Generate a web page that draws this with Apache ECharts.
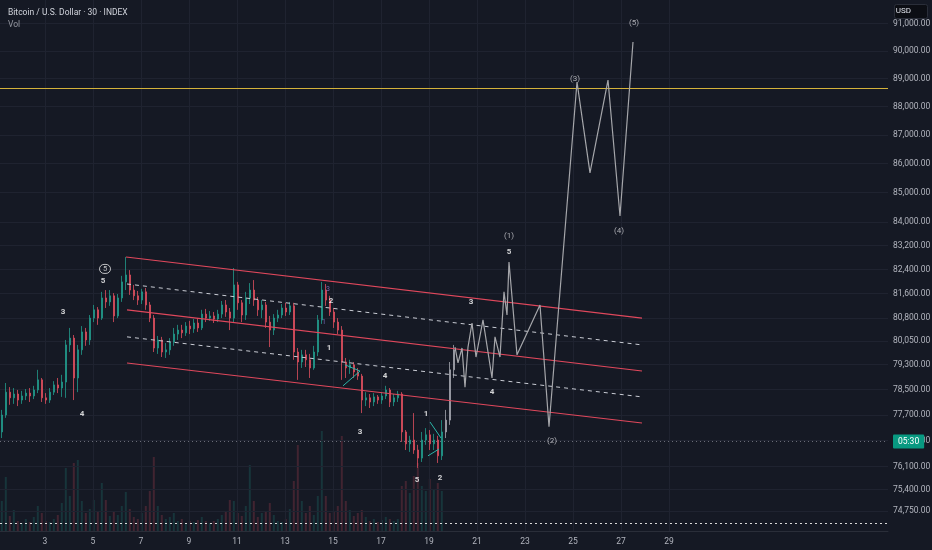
<!DOCTYPE html>
<html>
<head>
<meta charset="utf-8">
<script src="https://cdn.jsdelivr.net/npm/echarts@6/dist/echarts.min.js"></script>
<style>
  html, body { margin: 0; padding: 0; background: #151924; }
  #chart { width: 932px; height: 550px; }
</style>
</head>
<body>
<div id="chart"></div>
<script>
// BTC/USD 30m, drawn as 4h candles (day of month on x, log price on y)

var candleStartDay = 1.2
var candleStepDay = 1 / 6

// [open, close, low, high]
var candles = [
    [77170, 77700, 76980, 77860], [77700, 78420, 77610, 78710], [78420, 78240, 78020, 78580],
    [78240, 78360, 78050, 78550], [78360, 78170, 77980, 78490], [78170, 78300, 78050, 78460],
    [78300, 78390, 78170, 78520], [78390, 78300, 78110, 78550], [78300, 78490, 78200, 78620],
    [78490, 78810, 78390, 79130], [78810, 78240, 78110, 78870], [78240, 78170, 78050, 78390],
    [78170, 78420, 78080, 78550], [78420, 78650, 78330, 78770], [78650, 78550, 78390, 78870],
    [78550, 78740, 78270, 78970], [78740, 79930, 78240, 80090], [79930, 80150, 79700, 80480],
    [80150, 78870, 78170, 80250], [78870, 79770, 78420, 79930], [79770, 80350, 79610, 80540],
    [80350, 80090, 79900, 80480], [80090, 80800, 79930, 80900], [80800, 81070, 80670, 81230],
    [81070, 80800, 80580, 81160], [80800, 81460, 80740, 81660], [81460, 81330, 81130, 81720],
    [81330, 81530, 81200, 81720], [81530, 80870, 80670, 81620], [80870, 81460, 80800, 81590],
    [81460, 81990, 81330, 82190], [81990, 82220, 81720, 82820], [82220, 81720, 81560, 82380],
    [81720, 81530, 81390, 81890], [81530, 81390, 81230, 81690], [81390, 81660, 81260, 81760],
    [81660, 81230, 81070, 81790], [81230, 80800, 80670, 81330], [80800, 79830, 79700, 80900],
    [79830, 80090, 79640, 80220], [80090, 79700, 79540, 80190], [79700, 79770, 79510, 79990],
    [79770, 80020, 79610, 80150], [80020, 80280, 79900, 80480], [80280, 80410, 80090, 80580],
    [80410, 80320, 80150, 80580], [80320, 80540, 80220, 80670], [80540, 80450, 80280, 80710],
    [80450, 80640, 80320, 80770], [80640, 80480, 80350, 80800], [80480, 80930, 80410, 81070],
    [80930, 80800, 80670, 81100], [80800, 80870, 80710, 81030], [80870, 80770, 80640, 81000],
    [80770, 80930, 80670, 81070], [80930, 81230, 80800, 81360], [81230, 81000, 80840, 81390],
    [81000, 80800, 80410, 81130], [80800, 81890, 80670, 82450], [81890, 81300, 81070, 81990],
    [81300, 80900, 80670, 81390], [80900, 81460, 80740, 81660], [81460, 81720, 81260, 81950],
    [81720, 81390, 81200, 82050], [81390, 81070, 80870, 81490], [81070, 81230, 80800, 81390],
    [81230, 80670, 80480, 81330], [80670, 80410, 79860, 80870], [80410, 80800, 80250, 80930],
    [80800, 80900, 80670, 81070], [80900, 81130, 80800, 81260], [81130, 81000, 80870, 81300],
    [81000, 81200, 80900, 81330], [81200, 79700, 79450, 81300], [79700, 79380, 78810, 79830],
    [79380, 79610, 79190, 79770], [79610, 79450, 79220, 79770], [79450, 79190, 78870, 79640],
    [79190, 79700, 79130, 79900], [79700, 80740, 79570, 80900], [80740, 81720, 80610, 81990],
    [81720, 81390, 81200, 81920], [81390, 81000, 80870, 81530], [81000, 80670, 80480, 81130],
    [80670, 80410, 80280, 80800], [80410, 79380, 78810, 80540], [79380, 79190, 78870, 79510],
    [79190, 79290, 79000, 79450], [79290, 79060, 78870, 79380], [79060, 78930, 78810, 79190],
    [78930, 78170, 77760, 79000], [78170, 78240, 77980, 78420], [78240, 78110, 77920, 78360],
    [78110, 78270, 77980, 78390], [78270, 78170, 78050, 78330], [78170, 78300, 78050, 78420],
    [78300, 78490, 78200, 78620], [78490, 78110, 77950, 78550], [78110, 78240, 77980, 78360],
    [78240, 78360, 78110, 78460], [78360, 77170, 76860, 78420], [77170, 76800, 76610, 77230],
    [76800, 76920, 76550, 77050], [76920, 76610, 76490, 77760], [76610, 76360, 76060, 76770],
    [76360, 76920, 76240, 77170], [76920, 77080, 76770, 77290], [77080, 76800, 76610, 77230],
    [76800, 76920, 76610, 77110], [76920, 76430, 76210, 77050], [76430, 77170, 76300, 77540]
]

// grey (unconfirmed) candles after the last coloured one
var ghostCandles = [
    [77170, 77540, 76980, 77860], [77540, 79130, 77390, 79380], [79130, 79770, 78870, 79930]
]

var volumes = [
    30, 54, 15, 21, 10, 8, 12, 9, 14, 25, 18, 10, 9, 12, 16, 28, 63, 35, 68, 71,
    30, 18, 22, 31, 20, 48, 31, 15, 20, 16, 25, 39, 22, 14, 12, 18, 25, 40, 74, 25,
    16, 12, 14, 18, 10, 12, 8, 10, 9, 11, 14, 10, 8, 10, 12, 16, 20, 31, 30, 18,
    15, 25, 66, 30, 14, 18, 20, 28, 16, 10, 9, 12, 22, 50, 86, 30, 18, 25, 16, 35,
    100, 35, 18, 20, 25, 95, 30, 21, 15, 18, 21, 14, 10, 12, 9, 11, 14, 12, 10, 12,
    45, 50, 38, 55, 68, 45, 40, 52, 42, 48, 40
]

// projected wave path
var waveDays = [20.083, 20.208, 20.375, 20.5, 20.625, 20.792, 20.958, 21.25, 21.625, 21.75,
    21.958, 22.125, 22.25, 22.333, 22.667, 23.625, 24.0, 25.167, 25.708, 26.458, 26.958, 27.5]
var wavePrices = [79860, 79350, 79830, 78580, 79860, 80640, 79540, 80740, 78870, 80190,
    79540, 81660, 80900, 82650, 79610, 81230, 77330, 88880, 85680, 88950, 84200, 90330]

// channel: [startDay, startPrice, endDay, endPrice, dashed]
var channelLines = [
    [6.375, 82820, 27.875, 80800, false],
    [6.417, 81920, 27.875, 79930, true],
    [6.417, 81070, 27.875, 79090, false],
    [6.417, 80190, 27.875, 78270, true],
    [6.417, 79350, 27.875, 77450, false]
]

var tealSegments = [
    [15.417, 78620, 16.125, 79090],
    [15.5, 79290, 16.125, 79090],
    [18.958, 76430, 19.417, 76640],
    [19.042, 77480, 19.5, 76980]
]

// [day, price, text, kind]  w = wave count, p = projection, c = circled, v = sub count
var waveLabels = [
    [3.75, 81000, '3', 'w'], [5.417, 82020, '5', 'w'], [5.5, 82420, '5', 'c'], [4.542, 77730, '4', 'w'],
    [14.917, 81360, '2', 'w'], [14.833, 79830, '1', 'w'], [14.792, 81750, '3', 'v'], [14.625, 80670, '1', 'v'],
    [17.167, 78930, '4', 'w'], [16.125, 77170, '3', 'w'], [18.875, 77730, '1', 'w'],
    [18.5, 75690, '5', 'w'], [19.458, 75750, '2', 'w'],
    [20.75, 81330, '3', 'w'], [21.625, 78420, '4', 'w'], [22.333, 82990, '5', 'w'],
    [22.333, 83520, '(1)', 'p'], [24.125, 76890, '(2)', 'p'], [25.083, 88990, '(3)', 'p'],
    [26.917, 83690, '(4)', 'p'], [27.542, 91020, '(5)', 'p']
]

var priceTicks = [91000, 90000, 89000, 88000, 87000, 86000, 85000, 84000, 83200, 82400,
    81600, 80800, 80050, 79300, 78500, 77700, 76900, 76100, 75400, 74750]
var dayTicks = [3, 5, 7, 9, 11, 13, 15, 17, 19, 21, 23, 25, 27, 29]

var yellowLevel = 88670
var baseLevel = 74390
var lastPrice = 76870
var countdown = '05:30'

var UP = '#229a8b'
var DOWN = '#de4f5e'
var GRID = '#1f2330'
var TXT = '#b2b5be'
var FONT = 'Roboto, "Noto Sans", sans-serif'

var chart = echarts.init(document.getElementById('chart'), null, {renderer: 'canvas'});

function fmtPrice(v) {
    return v.toLocaleString('en-US', {minimumFractionDigits: 2, maximumFractionDigits: 2})
}

var candleData = candles.map(function (c, i) {
    return [candleStartDay + i * candleStepDay, c[0], c[1], c[2], c[3]]
})
var ghostData = ghostCandles.map(function (c, i) {
    return [candleStartDay + (candles.length + i) * candleStepDay, c[0], c[1], c[2], c[3]]
})
var volumeData = volumes.map(function (v, i) {
    var c = candles[i]
    return {
        value: [candleStartDay + i * candleStepDay, v],
        itemStyle: {color: c[1] >= c[0] ? 'rgba(34,154,139,0.22)' : 'rgba(222,79,94,0.22)'}
    }
})

var series = []

// grid lines + price labels
series.push({
    type: 'line', data: [], xAxisIndex: 0, yAxisIndex: 0, z: 1,
    markLine: {
        silent: true, animation: false, symbol: ['none', 'none'],
        lineStyle: {color: GRID, type: 'solid', width: 1},
        label: {position: 'end', distance: 5, color: TXT, fontSize: 8.5, fontFamily: FONT,
            formatter: function (p) { return fmtPrice(p.value) }},
        data: priceTicks.map(function (v) { return {yAxis: v} })
            .concat(dayTicks.map(function (d) { return {xAxis: d, label: {show: false}} }))
    }
})

// volume
series.push({
    type: 'bar', name: 'Vol', data: volumeData, xAxisIndex: 1, yAxisIndex: 1,
    barWidth: 2, z: 2, animation: false
})

// level lines
series.push({
    type: 'line', data: [], xAxisIndex: 0, yAxisIndex: 0, z: 3,
    markLine: {
        silent: true, animation: false, symbol: ['none', 'none'], label: {show: false},
        data: [
            {yAxis: yellowLevel, lineStyle: {color: '#d4b23a', width: 1.2, type: 'solid'}},
            {yAxis: baseLevel, lineStyle: {color: '#d8d8d8', width: 1.2, type: [2, 3]}}
        ]
    }
})

series.push({
    type: 'candlestick', data: candleData, xAxisIndex: 0, yAxisIndex: 0,
    encode: {x: 0, y: [1, 2, 3, 4]}, barWidth: 1.8, z: 5, animation: false,
    itemStyle: {color: UP, color0: DOWN, borderColor: UP, borderColor0: DOWN, borderWidth: 0.8}
})
series.push({
    type: 'candlestick', data: ghostData, xAxisIndex: 0, yAxisIndex: 0,
    encode: {x: 0, y: [1, 2, 3, 4]}, barWidth: 1.8, z: 5, animation: false,
    itemStyle: {color: '#a3a6af', color0: '#7c7f88', borderColor: '#a3a6af', borderColor0: '#7c7f88', borderWidth: 0.8}
})

channelLines.forEach(function (l) {
    series.push({
        type: 'line', data: [[l[0], l[1]], [l[2], l[3]]], xAxisIndex: 0, yAxisIndex: 0,
        showSymbol: false, silent: true, z: 6, animation: false,
        lineStyle: l[4] ? {color: '#c9ccd4', width: 1, type: [4, 4]} : {color: '#e0485c', width: 1.1}
    })
})

tealSegments.forEach(function (s) {
    series.push({
        type: 'line', data: [[s[0], s[1]], [s[2], s[3]]], xAxisIndex: 0, yAxisIndex: 0,
        showSymbol: false, silent: true, z: 7, animation: false,
        lineStyle: {color: '#2bb5a8', width: 1}
    })
})

series.push({
    type: 'line', data: waveDays.map(function (d, i) { return [d, wavePrices[i]] }),
    xAxisIndex: 0, yAxisIndex: 0, showSymbol: false, silent: true, z: 7, animation: false,
    lineStyle: {color: '#a5a6aa', width: 1.2}
})

// current price line with countdown box
series.push({
    type: 'line', data: [], xAxisIndex: 0, yAxisIndex: 0, z: 9,
    markLine: {
        silent: true, animation: false, symbol: ['none', 'none'],
        lineStyle: {color: '#6a6d78', type: [1, 3], width: 1},
        label: {position: 'end', distance: 5, formatter: countdown, backgroundColor: '#089981',
            color: '#ffffff', fontSize: 8.5, fontFamily: FONT, padding: [3, 5, 2, 5], borderRadius: 1},
        data: [{yAxis: lastPrice}]
    }
})

series.push({
    type: 'scatter', xAxisIndex: 0, yAxisIndex: 0, z: 10, symbolSize: 1, silent: true,
    itemStyle: {color: 'rgba(0,0,0,0)'}, animation: false,
    data: waveLabels.map(function (w) {
        var lab = {show: true, position: 'inside', formatter: w[2], fontFamily: FONT}
        if (w[3] === 'w') {
            lab.color = '#ffffff'; lab.fontSize = 8; lab.fontWeight = 'bold'
        } else if (w[3] === 'p') {
            lab.color = '#cfd0d4'; lab.fontSize = 8
        } else if (w[3] === 'c') {
            lab.color = '#e6e6e6'; lab.fontSize = 7.5; lab.borderColor = '#e6e6e6'; lab.borderWidth = 1
            lab.borderRadius = 6; lab.padding = [1, 3, 0, 3]; lab.width = 5; lab.align = 'center'
        } else {
            lab.color = '#8e7bd6'; lab.fontSize = 7
        }
        return {value: [w[0], w[1]], label: lab}
    })
})

var option = {
    backgroundColor: '#151924',
    animation: false,
    title: {
        text: 'Bitcoin / U.S. Dollar · 30 · INDEX', subtext: 'Vol',
        left: 3, top: 3, itemGap: 3,
        textStyle: {color: '#d1d4dc', fontSize: 8.5, fontWeight: 'normal', fontFamily: FONT},
        subtextStyle: {color: '#9598a1', fontSize: 8.5, fontFamily: FONT}
    },
    grid: [
        {left: 0, right: 44, top: 0, bottom: 19},
        {left: 0, right: 44, top: 400, bottom: 19}
    ],
    xAxis: [
        {
            type: 'value', gridIndex: 0, min: 1.125, max: 38.125,
            splitLine: {show: false}, axisTick: {show: false},
            axisLine: {show: true, lineStyle: {color: '#2a2e39'}},
            axisLabel: {color: TXT, fontSize: 8.5, fontFamily: FONT, margin: 6,
                customValues: dayTicks, formatter: function (v) { return String(v) }}
        },
        {type: 'value', gridIndex: 1, min: 1.125, max: 38.125, show: false}
    ],
    yAxis: [
        {
            type: 'log', gridIndex: 0, min: 74145, max: 91872, position: 'right',
            axisLabel: {show: false}, axisTick: {show: false}, axisLine: {show: false},
            splitLine: {show: false}
        },
        {type: 'value', gridIndex: 1, min: 0, max: 131, show: false}
    ],
    graphic: [
        {type: 'rect', right: 4, top: 4, shape: {width: 33, height: 14, r: 2},
            style: {fill: '#0c0e14', stroke: '#2a2e39'}, z: 100},
        {type: 'text', right: 21, top: 7, style: {text: 'USD', fill: '#e0e3eb', fontSize: 8, fontFamily: FONT}, z: 101}
    ],
    series: series
};
chart.setOption(option);
</script>
</body>
</html>
